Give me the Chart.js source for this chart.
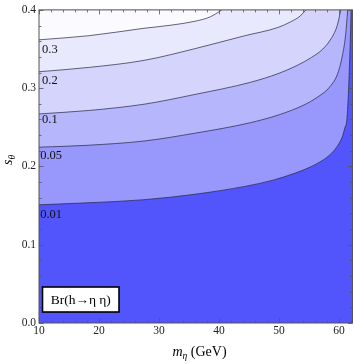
<!DOCTYPE html>
<html>
<head>
<meta charset="utf-8">
<script src="https://cdn.jsdelivr.net/npm/chart.js@4"></script>
<style>
html,body{margin:0;padding:0;background:#fff;}
#wrap{width:354px;height:364px;position:relative;}
</style>
</head>
<body>
<div id="wrap"><canvas id="c"></canvas></div>
<script>
// ---- data ----
const levels = ['0.3', '0.2', '0.1', '0.05', '0.01'];
const xTicks = [10, 20, 30, 40, 50, 60];
const yTicks = [0.0, 0.1, 0.2, 0.3, 0.4];

const m30 = [10, 18.3, 27.5, 32, 36, 38.5, 40.5];
const s30 = [0.3618, 0.367, 0.3765, 0.3805, 0.3855, 0.391, 0.400];

const m20 = [10, 18.3, 27.5, 36, 44.3, 49.8, 52, 53.5, 54.5];
const s20 = [0.321, 0.3265, 0.3355, 0.3505, 0.367, 0.3775, 0.385, 0.392, 0.400];

const m10 = [10, 18.3, 27.5, 36, 45.2, 50, 53, 55.4, 57.3, 58.8, 59.7, 60.3];
const s10 = [0.2671, 0.2715, 0.2795, 0.292, 0.3074, 0.319, 0.329, 0.3392, 0.350, 0.3647, 0.380, 0.400];

const m05 = [10, 18, 27.5, 36, 45, 50, 54, 56.5, 58.5, 59.8, 60.6, 61.1, 61.45];
const s05 = [0.2246, 0.227, 0.2325, 0.2425, 0.2555, 0.266, 0.278, 0.289, 0.302, 0.319, 0.343, 0.368, 0.400];

const m01 = [10, 18, 27.5, 36, 44.3, 49, 52.7, 55, 57.1, 58.5, 59.6, 60.5, 61.0, 61.3, 61.55, 61.75, 61.9, 62.02];
const s01 = [0.151, 0.1535, 0.1575, 0.1645, 0.1745, 0.1825, 0.1915, 0.1985, 0.207, 0.215, 0.2246, 0.237, 0.250, 0.259, 0.29, 0.33, 0.365, 0.400];

// contour label anchors (m, s) – left side of the plot
const labelM = [10.5, 10.5, 10.5, 10.2, 10.2];
const labelS = [0.349, 0.3096, 0.2599, 0.214, 0.1389];

// ---- styles ----
const bandColors = ['#fbfbff', '#e9e9fd', '#d4d4fc', '#b6b6fc', '#9898fc']; // region above each contour
const lowColor = '#5155fb';
const serif = "'Liberation Serif', 'DejaVu Serif', serif";

function pts(ms, ss) { return ms.map((m, i) => ({ x: m, y: ss[i] })); }
const series = [pts(m30, s30), pts(m20, s20), pts(m10, s10), pts(m05, s05), pts(m01, s01)];

const datasets = series.map((d, i) => ({
  label: levels[i],
  data: d,
  borderColor: 'rgba(40,40,70,0.8)',
  borderWidth: 0.9,
  pointRadius: 0,
  cubicInterpolationMode: 'monotone',
  fill: 'end',
  backgroundColor: bandColors[i]
}));

const decor = {
  id: 'decor',
  beforeDatasetsDraw(chart) {
    const { ctx, chartArea: a } = chart;
    ctx.save();
    ctx.fillStyle = lowColor;
    ctx.fillRect(a.left, a.top, a.right - a.left, a.bottom - a.top);
    ctx.restore();
  },
  afterDatasetsDraw(chart) {
    const { ctx, chartArea: a, scales } = chart;
    const xs = scales.x, ys = scales.y;
    ctx.save();
    // contour labels
    ctx.fillStyle = '#111';
    ctx.font = '12.5px ' + serif;
    ctx.textBaseline = 'middle';
    ctx.textAlign = 'left';
    levels.forEach((t, i) => {
      ctx.fillText(t, xs.getPixelForValue(labelM[i]), ys.getPixelForValue(labelS[i]));
    });
    // ticks (inside frame, all four sides)
    ctx.strokeStyle = '#555';
    ctx.lineWidth = 0.8;
    ctx.beginPath();
    for (let v = 10; v <= 62.2; v += 2) {
      const major = Math.abs(v % 10) < 1e-6;
      const L = major ? 4.5 : 2.5;
      const px = Math.round(xs.getPixelForValue(v)) + 0.5;
      ctx.moveTo(px, a.bottom); ctx.lineTo(px, a.bottom - L);
      ctx.moveTo(px, a.top); ctx.lineTo(px, a.top + L);
    }
    for (let k = 0; k <= 20; k++) {
      const v = k * 0.02;
      const major = k % 5 === 0;
      const L = major ? 4.5 : 2.5;
      const py = Math.round(ys.getPixelForValue(v)) + 0.5;
      ctx.moveTo(a.left, py); ctx.lineTo(a.left + L, py);
      ctx.moveTo(a.right, py); ctx.lineTo(a.right - L, py);
    }
    ctx.stroke();
    // frame
    ctx.strokeStyle = '#555';
    ctx.lineWidth = 1;
    ctx.strokeRect(a.left, a.top, a.right - a.left, a.bottom - a.top);

    // legend box
    const bx = a.left + 3.5, by = a.bottom - 36, bw = 76.5, bh = 25;
    ctx.fillStyle = '#fff';
    ctx.fillRect(bx, by, bw, bh);
    ctx.strokeStyle = '#000';
    ctx.lineWidth = 1.6;
    ctx.strokeRect(bx, by, bw, bh);
    ctx.fillStyle = '#000';
    ctx.font = '13.5px ' + serif;
    ctx.textAlign = 'center';
    ctx.textBaseline = 'middle';
    ctx.fillText('Br(h\u2192\u03b7 \u03b7)', bx + bw / 2, by + bh / 2 + 0.5);

    // x axis title: m_eta (GeV)
    ctx.textAlign = 'left';
    ctx.textBaseline = 'alphabetic';
    const f1 = 'italic 14px ' + serif, f2 = 'italic 9.5px ' + serif, f3 = '14px ' + serif;
    ctx.font = f1; const w1 = ctx.measureText('m').width;
    ctx.font = f2; const w2 = ctx.measureText('\u03b7').width;
    ctx.font = f3; const w3 = ctx.measureText(' (GeV)').width;
    let x0 = 199.5 - (w1 + w2 + w3) / 2;
    const yb = 356;
    ctx.font = f1; ctx.fillText('m', x0, yb);
    ctx.font = f2; ctx.fillText('\u03b7', x0 + w1, yb + 3);
    ctx.font = f3; ctx.fillText(' (GeV)', x0 + w1 + w2, yb);

    // y axis title: s_theta
    ctx.translate(12, 160);
    ctx.rotate(-Math.PI / 2);
    ctx.font = f1; const ws = ctx.measureText('s').width;
    ctx.font = f2; const wt = ctx.measureText('\u03b8').width;
    const sx = -(ws + wt) / 2;
    ctx.font = f1; ctx.fillText('s', sx, 0);
    ctx.font = f2; ctx.fillText('\u03b8', sx + ws, 3);
    ctx.restore();
  }
};

new Chart(document.getElementById('c'), {
  type: 'line',
  data: { datasets },
  options: {
    responsive: true,
    maintainAspectRatio: false,
    animation: false,
    events: [],
    layout: { padding: { top: 9, right: 1.5, left: 0, bottom: 0 } },
    plugins: { legend: { display: false }, tooltip: { enabled: false }, title: { display: false } },
    scales: {
      x: {
        type: 'linear', min: 10, max: 62.25,
        grid: { display: false, drawTicks: false }, border: { display: false },
        afterBuildTicks: s => { s.ticks = xTicks.map(v => ({ value: v })); },
        afterFit: s => { s.height = 41; },
        ticks: { color: '#222', padding: 1, maxRotation: 0, font: { family: serif, size: 11.5 }, callback: v => String(v) }
      },
      y: {
        type: 'linear', min: 0, max: 0.4,
        grid: { display: false, drawTicks: false }, border: { display: false },
        afterBuildTicks: s => { s.ticks = yTicks.map(v => ({ value: v })); },
        afterFit: s => { s.width = 39; },
        ticks: { color: '#222', padding: 3, font: { family: serif, size: 11.5 }, callback: v => Number(v).toFixed(1) }
      }
    }
  },
  plugins: [decor]
});
</script>
</body>
</html>
